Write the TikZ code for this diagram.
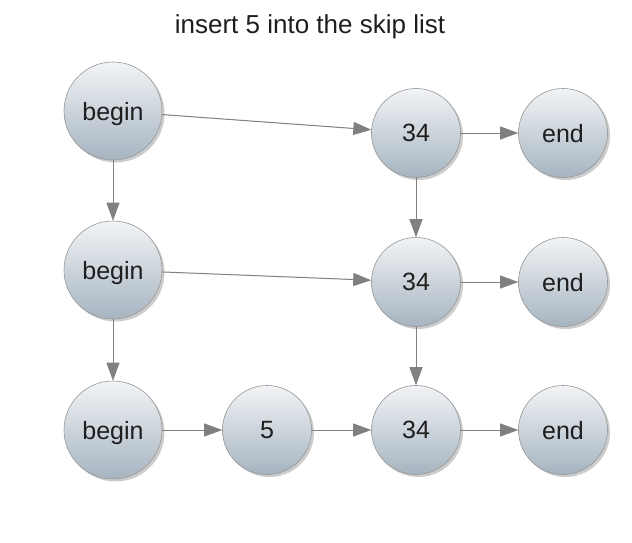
\documentclass[tikz,border=0pt]{standalone}
\usepackage{fontspec}
\setmainfont{Liberation Sans}
\usetikzlibrary{shadows,arrows.meta}
\definecolor{topc}{RGB}{242,244,246}
\definecolor{midc}{RGB}{222,227,231}
\definecolor{botc}{RGB}{166,180,192}
\definecolor{edgec}{RGB}{128,128,128}
\definecolor{rimc}{RGB}{150,150,150}
\definecolor{txtc}{RGB}{30,30,30}
\tikzset{
  ball/.style={circle, inner sep=0pt, draw=rimc, line width=0.6pt,
    top color=topc, middle color=midc, bottom color=botc, text=txtc,
    font=\fontsize{25}{29}\selectfont, text depth=0pt,
    drop shadow={shadow xshift=2.5pt, shadow yshift=-2.5pt, opacity=0.2, fill=black}},
  big/.style={ball, minimum size=98pt},
  small/.style={ball, minimum size=89pt},
  link/.style={draw=edgec, line width=1pt, -{Triangle[length=18pt,width=13pt]}, fill=edgec}
}
\begin{document}
\begin{tikzpicture}[x=1pt,y=-1pt]
\useasboundingbox (0,0) rectangle (632,543);
\node[text=txtc] (title) at (310,27) {\fontsize{26}{30}\selectfont insert 5 into the skip list};
\node[big] (b1) at (113,111) {begin};
\node[big] (b2) at (113,270) {begin};
\node[big] (b3) at (113,430) {begin};
\node[small] (t1) at (416,133) {34};
\node[small] (t2) at (416,282) {34};
\node[small] (t3) at (416,430) {34};
\node[small] (e1) at (563,133) {end};
\node[small] (e2) at (563,282) {end};
\node[small] (e3) at (563,430) {end};
\node[small] (f) at (267,430) {5};
\draw[link] (b1) -- (t1);
\draw[link] (t1) -- (e1);
\draw[link] (b1) -- (b2);
\draw[link] (t1) -- (t2);
\draw[link] (b2) -- (t2);
\draw[link] (t2) -- (e2);
\draw[link] (b2) -- (b3);
\draw[link] (t2) -- (t3);
\draw[link] (b3) -- (f);
\draw[link] (f) -- (t3);
\draw[link] (t3) -- (e3);
\end{tikzpicture}
\end{document}
